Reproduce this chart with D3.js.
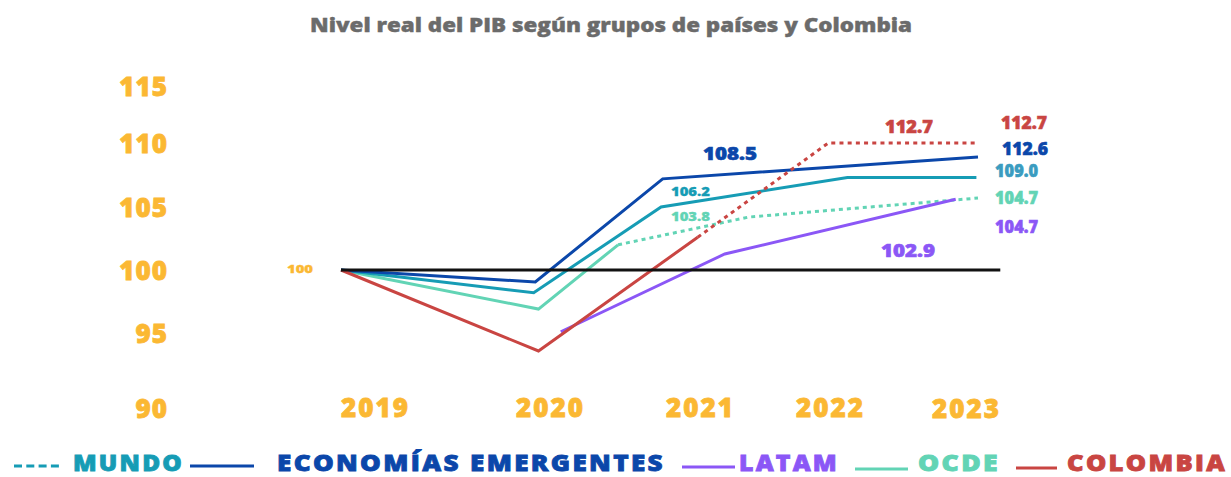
<!DOCTYPE html>
<html>
<head>
<meta charset="utf-8">
<script src="https://cdn.jsdelivr.net/npm/d3@7"></script>
<style>
  html, body { margin: 0; padding: 0; background: #fff; }
  svg { display: block; font-family: "Open Sans", "DejaVu Sans", sans-serif; font-weight: 800; }
</style>
</head>
<body>
<svg id="chart" width="1231" height="477"></svg>
<script>
// ---------- DATA ----------
const title = "Nivel real del PIB según grupos de países y Colombia";
const years = [2019, 2020, 2021, 2022, 2023];
const yTicks = [90, 95, 100, 105, 110, 115];

// Series as [time, index value] (vertices are not exactly on years)
const emergentes = [[2019, 100], [2020.22, 99.05], [2021.02, 107.2], [2023, 108.9]];
const mundo = [[2019, 100], [2020.21, 98.2], [2021.01, 105.0], [2022.18, 107.3], [2022.99, 107.3]];
const ocdeSolid = [[2019, 100], [2020.24, 96.9], [2020.74, 102.0]];
const ocdeDotted = [[2020.74, 102.0], [2021.56, 104.2], [2023, 105.7]];
const colombiaSolid = [[2019, 100], [2020.24, 93.8], [2021.24, 102.6]];
const colombiaDotted = [[2021.24, 102.6], [2022.06, 110.0], [2023, 110.0]];
const latam = [[2020.38, 95.1], [2021.41, 101.27], [2022.86, 105.6]];
const baseline = [[2019, 100], [2023.14, 100]];

const endLabels = ["112.7", "112.6", "109.0", "104.7", "104.7"];
const midLabels = ["108.5", "106.2", "103.8", "112.7", "102.9"];
const startLabel = "100";

const legendNames = ["MUNDO", "ECONOMÍAS EMERGENTES", "LATAM", "OCDE", "COLOMBIA"];

// ---------- STYLE ----------
const C = {
  yellow: "#FBB833",
  emerg: "#0B47AA",
  mundo: "#169CB5",
  mundoLabel: "#3A9CC0",
  ocde: "#62D4B5",
  latam: "#8B57F6",
  colombia: "#C94542",
  title: "#6B6B6B",
  base: "#111111"
};

const svg = d3.select("#chart");

// ---------- SCALES ----------
const x = d3.scaleLinear().domain([2019, 2023]).range([341, 978]);
const y = d3.scaleLinear().domain(yTicks).range([408, 333, 270, 207, 143, 86]);
const xTick = d3.scaleLinear().domain(years).range([375, 550, 700, 830, 966]);

function heavy(sel, color, w) {
  return sel.attr("fill", color).attr("stroke", color).attr("stroke-width", w).attr("paint-order", "stroke");
}

// ---------- TITLE ----------
heavy(svg.append("text")
  .attr("x", 611).attr("y", 32)
  .attr("text-anchor", "middle")
  .attr("font-size", 20)
  .attr("textLength", 602).attr("lengthAdjust", "spacingAndGlyphs")
  .text(title), C.title, 0.4);

// ---------- AXES (text only) ----------
const yAxis = d3.axisLeft(y).tickValues(yTicks).tickSize(0).tickPadding(0);
const gy = svg.append("g").attr("transform", "translate(168,0)").call(yAxis);
gy.select(".domain").remove();
heavy(gy.selectAll("text")
  .attr("font-size", 26)
  .attr("font-family", "Open Sans, sans-serif")
  .attr("font-weight", 800)
  .attr("letter-spacing", 1)
  .attr("dy", "0.36em"), C.yellow, 0.8);

const xAxis = d3.axisBottom(xTick).tickValues(years).tickFormat(d3.format("d")).tickSize(0).tickPadding(0);
const gx = svg.append("g").attr("transform", "translate(0,398)").call(xAxis);
gx.select(".domain").remove();
heavy(gx.selectAll("text")
  .attr("font-size", 26)
  .attr("font-family", "Open Sans, sans-serif")
  .attr("font-weight", 800)
  .attr("letter-spacing", 2)
  .attr("dy", "0.72em"), C.yellow, 0.8);
gx.selectAll(".tick").filter(d => d === 2023).select("text").attr("dy", "0.76em");

// ---------- LINES ----------
const line = d3.line().x(d => x(d[0])).y(d => y(d[1]));
function draw(data, color, dash) {
  svg.append("path")
    .datum(data)
    .attr("d", line)
    .attr("fill", "none")
    .attr("stroke", color)
    .attr("stroke-width", 3)
    .attr("stroke-linejoin", "miter")
    .attr("stroke-dasharray", dash || null);
}
draw(ocdeSolid, C.ocde);
draw(ocdeDotted, C.ocde, "4,4");
draw(mundo, C.mundo);
draw(emergentes, C.emerg);
draw(latam, C.latam);
draw(colombiaSolid, C.colombia);
draw(colombiaDotted, C.colombia, "4,4.2");
draw(baseline, C.base);

// ---------- ANNOTATIONS ----------
function label(txt, px, py, color, size, len) {
  const t = svg.append("text")
    .attr("x", px).attr("y", py)
    .attr("font-size", size)
    .text(txt);
  heavy(t, color, size > 15 ? 0.6 : 0.3);
  if (len) t.attr("textLength", len).attr("lengthAdjust", "spacingAndGlyphs");
  return t;
}
label(startLabel, 287, 273, C.yellow, 11, 26);

const midColors = [C.emerg, C.mundo, C.ocde, C.colombia, C.latam];
const midPos = [[703, 160, 17, 54], [671, 196, 13, 39], [671, 221, 13, 39], [885, 133, 17, 48], [881, 257, 17, 54]];
midLabels.forEach((t, i) => label(t, midPos[i][0], midPos[i][1], midColors[i], midPos[i][2], midPos[i][3]));

const endColors = [C.colombia, C.emerg, C.mundoLabel, C.ocde, C.latam];
const endPos = [[1001, 129], [1002, 155], [995, 177], [995, 204], [995, 233]];
endLabels.forEach((t, i) => label(t, endPos[i][0], endPos[i][1], endColors[i], 18, i < 2 ? 46 : 43));

// ---------- LEGEND ----------
const legendColors = [C.mundo, C.emerg, C.latam, C.ocde, C.colombia];
const legendLayout = [
  { x1: 14, x2: 59, ly: 466, tx: 73, tw: 111, ty: 471, dash: "8,4.3" },
  { x1: 190, x2: 254, ly: 466, tx: 277, tw: 388, ty: 471 },
  { x1: 682, x2: 735, ly: 467, tx: 739, tw: 100, ty: 471 },
  { x1: 855, x2: 908, ly: 469, tx: 918, tw: 82, ty: 471 },
  { x1: 1016, x2: 1057, ly: 468, tx: 1067, tw: 160, ty: 471 }
];
const lg = svg.append("g");
legendNames.forEach((name, i) => {
  const L = legendLayout[i];
  lg.append("line")
    .attr("x1", L.x1).attr("x2", L.x2).attr("y1", L.ly).attr("y2", L.ly)
    .attr("stroke", legendColors[i]).attr("stroke-width", 3)
    .attr("stroke-dasharray", L.dash || null);
  heavy(lg.append("text")
    .attr("x", L.tx).attr("y", L.ty)
    .attr("font-size", 22)
    .attr("letter-spacing", 2)
    .attr("textLength", L.tw).attr("lengthAdjust", "spacingAndGlyphs")
    .text(name), legendColors[i], 0.8);
});
</script>
</body>
</html>
